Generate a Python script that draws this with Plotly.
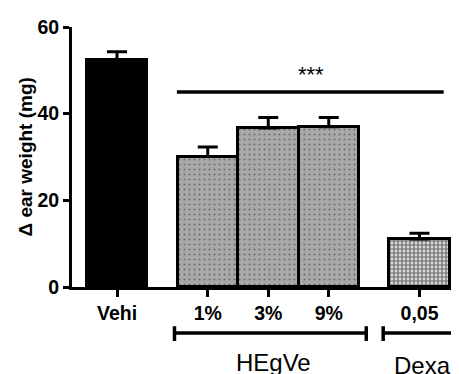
import plotly.graph_objects as go

# ---- data ----
categories = ["Vehi", "1%", "3%", "9%", "0,05"]
means = [52.5, 30.1, 36.7, 37.0, 11.1]
errors = [1.8, 2.2, 2.4, 2.1, 1.3]
y_ticks = [0, 20, 40, 60]
groups = ["HEgVe", "Dexa"]
signif_label = "***"
signif_level = 45

# ---- layout helpers ----
positions = [0, 1.5, 2.5, 3.5, 5]
OFF = 8  # page body margin
W, H = 459, 374
ML, MT = 72 - OFF, 22 - OFF
MB = H - (287 - OFF)
MR = OFF
PW = W - ML - MR
PH = H - MT - MB
px_per_unit = 60.5
x0 = -(117 - 72) / px_per_unit
x1 = x0 + PW / px_per_unit
font_family = "Liberation Sans, Arial, sans-serif"

def py(page_y):
    return ((287) - page_y) / PH

def pxx(page_x):
    return (page_x - 72) / PW

dots = dict(shape=".", fgcolor="#333333", bgcolor="#a9a9ab", size=5, solidity=0.14, fillmode="overlay")
styles = [
    dict(color="black"),
    dict(color="#a9a9ab", pattern=dots),
    dict(color="#a9a9ab", pattern=dots),
    dict(color="#a9a9ab", pattern=dots),
    dict(color="white", pattern=dict(shape=".", fgcolor="black", bgcolor="white", size=4, solidity=0.72, fillmode="overlay")),
]

fig = go.Figure()
for i in range(len(categories)):
    fig.add_trace(go.Bar(
        x=[positions[i]], y=[means[i]], width=1.0,
        marker=dict(**styles[i], line=dict(color="black", width=3)),
        error_y=dict(type="data", array=[errors[i]], arrayminus=[0], symmetric=False,
                     color="black", thickness=3, width=10),
        showlegend=False, hoverinfo="skip",
    ))

shapes = []
shapes.append(dict(type="line", xref="x", yref="y", x0=0.99, x1=5.40,
                   y0=signif_level, y1=signif_level, line=dict(color="black", width=3.5)))

def bracket(xa, xb, left_tick=True, right_tick=True):
    yb = py(334)
    out = [dict(type="line", xref="x", yref="paper", x0=xa, x1=xb, y0=yb, y1=yb,
                line=dict(color="black", width=3.5))]
    if left_tick:
        out.append(dict(type="line", xref="x", yref="paper", x0=xa, x1=xa, y0=py(327), y1=py(342),
                        line=dict(color="black", width=3.5)))
    if right_tick:
        out.append(dict(type="line", xref="x", yref="paper", x0=xb, x1=xb, y0=py(327), y1=py(342),
                        line=dict(color="black", width=3.5)))
    return out

shapes += bracket(0.95, 4.12)
shapes += bracket(4.40, 6.5, right_tick=False)

annotations = [
    dict(text=signif_label, xref="x", yref="y", x=3.21, y=signif_level + 0.7, showarrow=False,
         yanchor="bottom", font=dict(family=font_family, size=22, color="black")),
    dict(text=groups[0], xref="x", yref="paper", x=2.58, y=py(364), showarrow=False,
         yanchor="middle", font=dict(family=font_family, size=24, color="black")),
    dict(text=groups[1], xref="x", yref="paper", x=5.05, y=py(367), showarrow=False,
         yanchor="middle", font=dict(family=font_family, size=24, color="black")),
    dict(text="<b>\u0394 ear weight (mg)</b>", xref="paper", yref="paper",
         x=pxx(25), y=py(155), textangle=-90, showarrow=False,
         xanchor="center", yanchor="middle",
         font=dict(family=font_family, size=19, color="black")),
]

fig.update_layout(
    width=W, height=H,
    margin=dict(l=ML, r=MR, t=MT, b=MB, pad=0),
    plot_bgcolor="white", paper_bgcolor="white",
    bargap=0, shapes=shapes, annotations=annotations,
    font=dict(family=font_family, color="black"),
    xaxis=dict(range=[x0, x1], tickvals=positions, ticktext=[f"<b>{c}</b>" for c in categories],
               showline=True, linecolor="black", linewidth=3, ticks="outside", ticklen=7,
               tickwidth=3, tickcolor="black", showgrid=False, zeroline=False,
               tickfont=dict(family=font_family, size=19.5, color="black")),
    yaxis=dict(range=[0, 60], tickvals=y_ticks, ticktext=[f"<b>{t}</b>" for t in y_ticks],
               showline=True, linecolor="black", linewidth=3, ticks="outside", ticklen=6,
               tickwidth=3, tickcolor="black", showgrid=False, zeroline=False,
               tickfont=dict(family=font_family, size=19.5, color="black")),
)

fig.write_html("out.html")
